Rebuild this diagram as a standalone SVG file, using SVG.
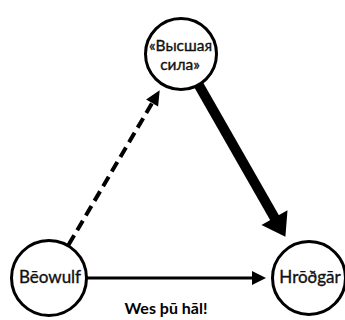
<svg xmlns="http://www.w3.org/2000/svg" width="345" height="320" viewBox="0 0 345 320">
<style>
.node circle{fill:#fff;stroke:#000;stroke-width:3}
text{font-family:Lato,"Open Sans","Noto Sans",sans-serif;font-size:17px;fill:#111;text-anchor:middle;stroke:#111;stroke-width:0.35}
.top{font-size:15.5px}
.lbl{font-weight:bold;font-size:16px;stroke:none;fill:#000}
.head{fill:#000;stroke:none}
</style>
<rect width="345" height="320" fill="#fff"/>
<g id="connectors">
<line x1="68.6" y1="244.8" x2="152.1" y2="103.1" stroke="#000" stroke-width="4" stroke-dasharray="11 6"/>
<polygon class="head" points="159.7,90.2 146.1,99.4 158.1,106.5"/>
<line x1="198.6" y1="84.8" x2="275" y2="218.6" stroke="#000" stroke-width="10"/>
<polygon class="head" points="285.4,236.8 287.5,210.3 261.5,225.1"/>
<line x1="87" y1="278" x2="253" y2="278" stroke="#000" stroke-width="3"/>
<polygon class="head" points="266,278 252,271 252,285"/>
</g>
<g id="node-power" class="node">
<circle cx="181" cy="54" r="35.5"/>
<text class="top" x="180.5" y="51">«Высшая</text>
<text class="top" x="180" y="70">сила»</text>
</g>
<g id="node-beowulf" class="node">
<circle cx="49" cy="278" r="37.5"/>
<text x="50" y="283">Bēowulf</text>
</g>
<g id="node-hrothgar" class="node">
<circle cx="309" cy="278" r="36.5"/>
<text x="310" y="283">Hrōðgār</text>
</g>
<text class="lbl" x="166" y="314">Wes þū hāl!</text>
</svg>
